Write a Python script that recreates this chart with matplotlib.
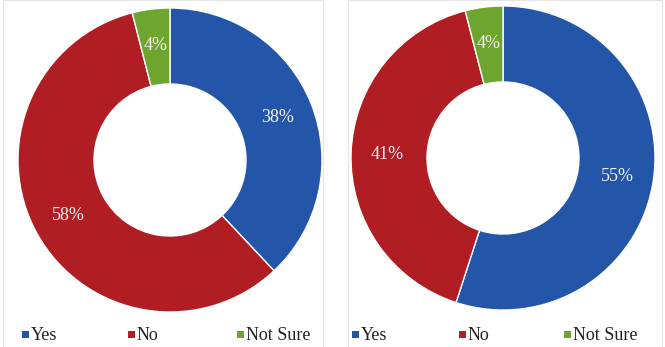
import matplotlib
matplotlib.use("Agg")
import matplotlib.pyplot as plt
from matplotlib.patches import Rectangle

categories = ["Yes", "No", "Not Sure"]
left_values = [38, 58, 4]
right_values = [55, 41, 4]
colors = ["#2356A8", "#B01E23", "#6EA52E"]

plt.rcParams["font.family"] = ["Liberation Serif", "DejaVu Serif"]

W, H = 665, 347
fig = plt.figure(figsize=(W / 100, H / 100), dpi=100)
fig.patch.set_facecolor("white")

# faint chart frames
for x0, x1 in [(3, 323), (348, 662)]:
    fig.add_artist(Rectangle((x0 / W, 0.0), (x1 - x0) / W, 0.999,
                             transform=fig.transFigure, fill=False,
                             edgecolor="#e4e4e4", linewidth=0.8))


def donut(cx, cy, r, values, legend_xs):
    ax = fig.add_axes([(cx - r) / W, (H - cy - r) / H, 2 * r / W, 2 * r / H])
    ax.pie(values, colors=colors, startangle=90, counterclock=False,
           radius=1.0, wedgeprops=dict(width=0.5, edgecolor="white", linewidth=1.0),
           labels=None, autopct=lambda p: f"{p:.0f}%", pctdistance=0.76,
           textprops=dict(color="#f4f2f8", fontsize=13))
    ax.set_xlim(-1, 1)
    ax.set_ylim(-1, 1)
    ax.set_aspect("equal")
    ax.axis("off")
    # legend row under the ring
    ly = 334
    sq = 7
    for name, col, lx in zip(categories, colors, legend_xs):
        fig.add_artist(Rectangle((lx / W, (H - ly - sq / 2) / H), sq / W, sq / H,
                                 transform=fig.transFigure, facecolor=col,
                                 edgecolor="none"))
        fig.text((lx + sq + 2) / W, (H - ly) / H, name, fontsize=13,
                 color="#222222", va="center_baseline", ha="left")


donut(170, 160, 152, left_values, [22, 128, 237])
donut(503, 158, 152, right_values, [352, 459, 564])

fig.savefig("out.png", dpi=100, facecolor="white")
